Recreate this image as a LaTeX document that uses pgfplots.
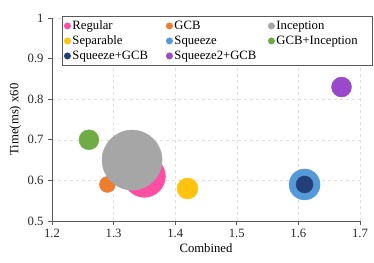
\documentclass[border=0pt]{standalone}
\usepackage{pgfplots}
\pgfplotsset{compat=1.18}
\usepackage{fontspec}
\setmainfont{Liberation Serif}
\definecolor{cReg}{HTML}{FF4FA3}
\definecolor{cGCB}{HTML}{EF7D30}
\definecolor{cInc}{HTML}{A6A6A6}
\definecolor{cSep}{HTML}{FFC20E}
\definecolor{cSq}{HTML}{559AD8}
\definecolor{cGI}{HTML}{6FAC46}
\definecolor{cSG}{HTML}{233F78}
\definecolor{cS2}{HTML}{9A48CC}
\definecolor{axc}{HTML}{595959}
\begin{document}
\fontsize{12.7}{15}\selectfont
\begin{tikzpicture}
\begin{axis}[
  scale only axis, width=308pt, height=203pt,
  xmin=1.2, xmax=1.7, ymin=0.5, ymax=1,
  xtick={1.2,1.3,1.4,1.5,1.6,1.7},
  ytick={0.5,0.6,0.7,0.8,0.9,1},
  xticklabels={1.2,1.3,1.4,1.5,1.6,1.7},
  yticklabels={0.5,0.6,0.7,0.8,0.9,1},
  /pgf/number format/assume math mode=true,
  axis lines=left, axis line style={-, axc, line width=0.8pt},
  tick align=outside, major tick length=4pt,
  tick style={axc, line width=0.8pt},
  grid=major, grid style={dashed, gray!25, line width=0.5pt},
  ticklabel style={font=\fontsize{12.7}{15}\selectfont, text=black!85},
  xlabel={Combined}, ylabel={Time(ms) x60},
  label style={font=\fontsize{12.7}{15}\selectfont},
  xlabel style={yshift=3pt},
  ylabel style={yshift=-2pt},
  clip=false,
  legend columns=3,
  legend image code/.code={\draw[#1, mark size=3pt] plot coordinates {(3pt,0pt)};},
  legend style={at={(0,1)}, anchor=north west, xshift=10pt, yshift=2pt,
    draw=axc, line width=0.9pt, fill=white, inner xsep=2pt, inner ysep=2pt,
    column sep=0pt, row sep=0pt,
    nodes={inner xsep=2pt, inner ysep=1.5pt, text width=92pt, align=left, font=\fontsize{12.7}{15}\selectfont, text height=9.5pt, text depth=2.5pt}},
]
\addplot[only marks, mark=*, mark size=21pt, mark options={draw=cReg, fill=cReg}] coordinates {(1.35,0.61)};
\addlegendentry{Regular}
\addplot[only marks, mark=*, mark size=8pt, mark options={draw=cGCB, fill=cGCB}] coordinates {(1.29,0.59)};
\addlegendentry{GCB}
\addplot[only marks, mark=*, mark size=30pt, mark options={draw=cInc, fill=cInc}] coordinates {(1.33,0.65)};
\addlegendentry{Inception}
\addplot[only marks, mark=*, mark size=10.5pt, mark options={draw=cSep, fill=cSep}] coordinates {(1.42,0.58)};
\addlegendentry{Separable}
\addplot[only marks, mark=*, mark size=15.5pt, mark options={draw=cSq, fill=cSq}] coordinates {(1.61,0.59)};
\addlegendentry{Squeeze}
\addplot[only marks, mark=*, mark size=10pt, mark options={draw=cGI, fill=cGI}] coordinates {(1.26,0.70)};
\addlegendentry{GCB+Inception}
\addplot[only marks, mark=*, mark size=8.5pt, mark options={draw=cSG, fill=cSG}] coordinates {(1.61,0.59)};
\addlegendentry{Squeeze+GCB}
\addplot[only marks, mark=*, mark size=10pt, mark options={draw=cS2, fill=cS2}] coordinates {(1.67,0.83)};
\addlegendentry{Squeeze2+GCB}
\end{axis}
\path (current axis.south west) ++(-52pt,-41pt) coordinate (bbsw);
\path (current axis.north east) ++(14pt,18pt) coordinate (bbne);
\useasboundingbox (bbsw) rectangle (bbne);
\end{tikzpicture}
\end{document}
